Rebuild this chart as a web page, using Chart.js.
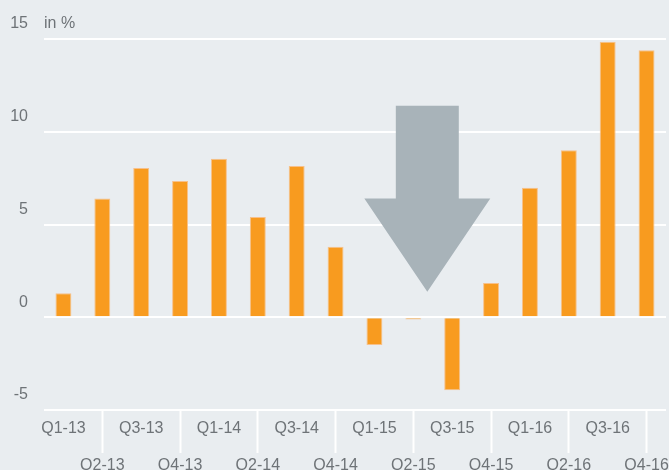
<!DOCTYPE html>
<html>
<head>
<meta charset="utf-8">
<script src="https://cdn.jsdelivr.net/npm/chart.js@4.4.1/dist/chart.umd.min.js"></script>
<style>
  html, body { margin: 0; padding: 0; background: #e9edf0; }
  #wrap { width: 669px; height: 470px; position: relative; }
</style>
</head>
<body>
<div id="wrap"><canvas id="growthChart"></canvas></div>
<script>
// quarters and growth values (in %)
const quarters = ['Q1-13', 'Q2-13', 'Q3-13', 'Q4-13', 'Q1-14', 'Q2-14', 'Q3-14', 'Q4-14',
                  'Q1-15', 'Q2-15', 'Q3-15', 'Q4-15', 'Q1-16', 'Q2-16', 'Q3-16', 'Q4-16'];
const growth = [1.3, 6.4, 8.05, 7.35, 8.55, 5.4, 8.15, 3.8,
                -1.5, -0.12, -3.93, 1.85, 6.98, 9.0, 14.85, 14.4];
const yTicks = [-5, 0, 5, 10, 15];
const unitLabel = 'in %';

// big down arrow, placed in data units (category index / value)
const arrow = { center: 9.36, top: 11.4, neck: 6.4, tip: 1.38, shaftHalf: 0.81, headHalf: 1.62 };

const textColor = '#6e7377';
const barColor = '#f89b1f';

const arrowPlugin = {
  id: 'downArrow',
  beforeDatasetsDraw(chart) {
    const { ctx, scales: { x, y } } = chart;
    const px = v => x.getPixelForValue(v);
    ctx.save();
    ctx.fillStyle = '#a8b3b9';
    ctx.beginPath();
    ctx.moveTo(px(arrow.center - arrow.shaftHalf), y.getPixelForValue(arrow.top));
    ctx.lineTo(px(arrow.center + arrow.shaftHalf), y.getPixelForValue(arrow.top));
    ctx.lineTo(px(arrow.center + arrow.shaftHalf), y.getPixelForValue(arrow.neck));
    ctx.lineTo(px(arrow.center + arrow.headHalf), y.getPixelForValue(arrow.neck));
    ctx.lineTo(px(arrow.center), y.getPixelForValue(arrow.tip));
    ctx.lineTo(px(arrow.center - arrow.headHalf), y.getPixelForValue(arrow.neck));
    ctx.lineTo(px(arrow.center - arrow.shaftHalf), y.getPixelForValue(arrow.neck));
    ctx.closePath();
    ctx.fill();
    ctx.restore();
  },
  afterDraw(chart) {
    const { ctx, chartArea } = chart;
    ctx.save();
    ctx.font = '16px "Liberation Sans", Arial, sans-serif';
    ctx.fillStyle = textColor;
    ctx.textAlign = 'left';
    ctx.textBaseline = 'middle';
    ctx.fillText(unitLabel, chartArea.left, chartArea.top - 15);
    ctx.restore();
  }
};

const ctx = document.getElementById('growthChart').getContext('2d');
new Chart(ctx, {
  type: 'bar',
  data: {
    labels: quarters,
    datasets: [{
      data: growth,
      backgroundColor: barColor,
      borderColor: '#f7c08a',
      borderWidth: 1,
      barPercentage: 0.41,
      categoryPercentage: 1
    }]
  },
  options: {
    responsive: true,
    maintainAspectRatio: false,
    animation: false,
    layout: { padding: { top: 39, right: 3, bottom: 0, left: 0 } },
    plugins: { legend: { display: false }, tooltip: { enabled: false } },
    scales: {
      x: {
        grid: {
          offset: false,
          drawOnChartArea: false,
          drawTicks: true,
          tickLength: 43,
          tickWidth: 2,
          tickColor: c => (c.index % 2 === 1 ? '#ffffff' : 'rgba(0,0,0,0)')
        },
        border: { display: false },
        ticks: {
          autoSkip: false,
          maxRotation: 0,
          padding: -42.5,
          color: textColor,
          font: { family: '"Liberation Sans", Arial, sans-serif', size: 16, lineHeight: '37px' },
          callback: (v, i) => (i % 2 === 0 ? [quarters[i], ''] : ['', quarters[i]])
        },
        afterFit: scale => { scale.height = 60; }
      },
      y: {
        min: -5,
        max: 15,
        afterBuildTicks: scale => { scale.ticks = yTicks.map(v => ({ value: v })); },
        grid: { color: '#ffffff', lineWidth: 2, drawTicks: false },
        border: { display: false },
        ticks: {
          padding: 16,
          labelOffset: -15,
          color: textColor,
          font: { family: '"Liberation Sans", Arial, sans-serif', size: 16 }
        },
        afterFit: scale => { scale.width = 44; }
      }
    }
  },
  plugins: [arrowPlugin]
});
</script>
</body>
</html>
